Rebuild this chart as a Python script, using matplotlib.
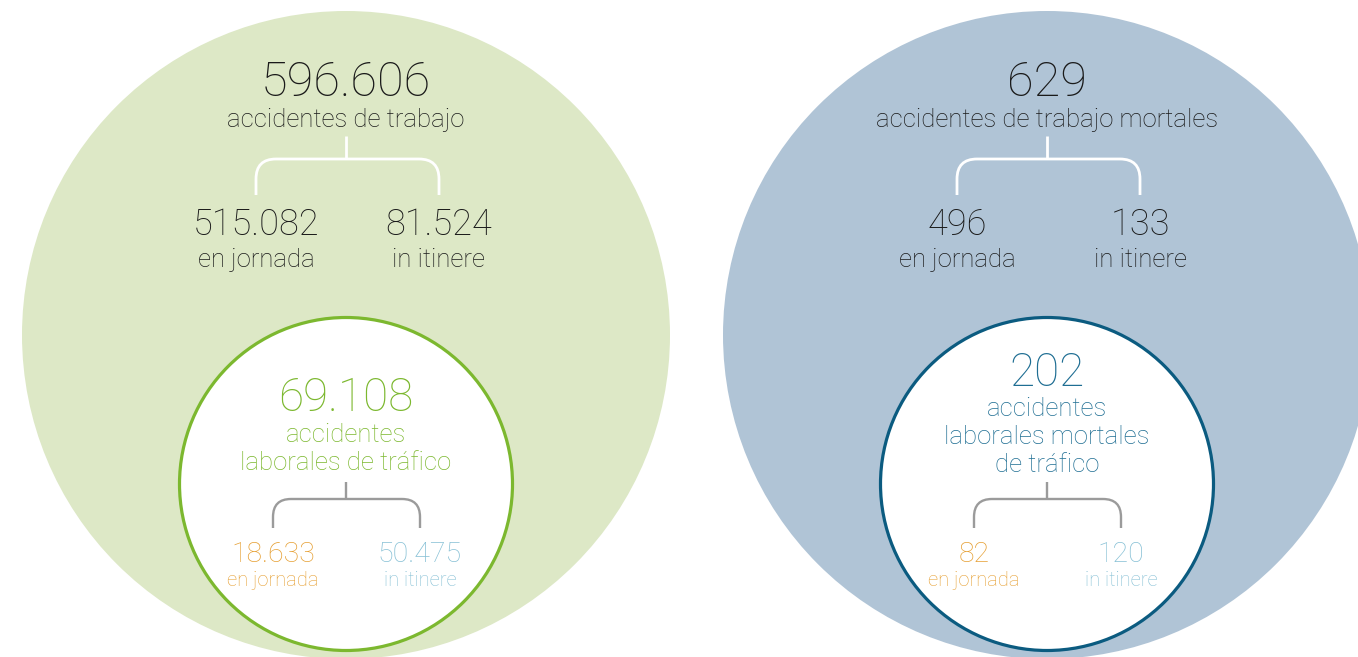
import matplotlib
matplotlib.use("Agg")
from matplotlib import pyplot as plt
from matplotlib.patches import Circle, PathPatch
from matplotlib.path import Path

# data
totals = [596606, 629]
total_labels = ["accidentes de trabajo", "accidentes de trabajo mortales"]
split_values = [[515082, 81524], [496, 133]]
split_labels = ["en jornada", "in itinere"]
traffic_totals = [69108, 202]
traffic_labels = [["accidentes", "laborales de tráfico"],
                  ["accidentes", "laborales mortales", "de tráfico"]]
traffic_split = [[18633, 50475], [82, 120]]

# style
FONT = "Roboto"
DARK = "#1a1a1a"
bg_colors = ["#dde8c6", "#b0c4d6"]
ring_colors = ["#7cb82f", "#0b5b80"]
traffic_text = ["#7cb82f", "#1f6e93"]
ORANGE = "#e6a034"
LIGHTBLUE = "#86c0d5"
GREY = "#9b9b9b"


def fmt(v):
    return f"{v:,}".replace(",", ".")


def bracket(ax, cx, y0, ymid, y1, xl, xr, r, color, lw):
    ax.plot([cx, cx], [y0, ymid], color=color, lw=lw, solid_capstyle="butt")
    verts = [(xl, y1), (xl, ymid + r), (xl, ymid), (xl + r, ymid),
             (xr - r, ymid), (xr, ymid), (xr, ymid + r), (xr, y1)]
    codes = [Path.MOVETO, Path.LINETO, Path.CURVE3, Path.CURVE3,
             Path.LINETO, Path.CURVE3, Path.CURVE3, Path.LINETO]
    ax.add_patch(PathPatch(Path(verts, codes), fill=False, edgecolor=color, lw=lw))


def label(ax, x, y, s, size, color, weight="light"):
    ax.text(x, y, s, ha="center", va="center", fontsize=size, color=color,
            family=FONT, weight=weight)


fig = plt.figure(figsize=(13.58, 6.57), dpi=100)
ax = fig.add_axes([0, 0, 1, 1])
ax.set_xlim(0, 1358)
ax.set_ylim(657, 0)
ax.axis("off")

centers = [346, 1047]
big_r = 324
for i, cx in enumerate(centers):
    ax.add_patch(Circle((cx, 335), big_r, facecolor=bg_colors[i], edgecolor="none"))
    ax.add_patch(Circle((cx, 484), 166.5, facecolor="white",
                        edgecolor=ring_colors[i], lw=2.3))

    label(ax, cx, 83, fmt(totals[i]), 35, DARK)
    label(ax, cx, 120, total_labels[i], 18.5, DARK)

    sub_x = [cx - 90, cx + 93]
    bracket(ax, cx, 136, 159, 195, sub_x[0], sub_x[1], 20, "white", 2.0)
    for j in range(2):
        label(ax, sub_x[j], 225, fmt(split_values[i][j]), 26, DARK)
        label(ax, sub_x[j], 260, split_labels[j], 18.5, DARK)

    # traffic circle
    lines = traffic_labels[i]
    top_y = 398 if len(lines) == 2 else 373
    gap = 37 if len(lines) == 2 else 35.5
    label(ax, cx, top_y, fmt(traffic_totals[i]), 33, traffic_text[i])
    for k, line in enumerate(lines):
        label(ax, cx, top_y + gap + 28.5 * k, line, 18.5, traffic_text[i])

    tx = [cx - 73, cx + 74]
    bracket(ax, cx, 482, 499, 528, tx[0], tx[1], 18, GREY, 1.7)
    colors = [ORANGE, LIGHTBLUE]
    for j in range(2):
        label(ax, tx[j], 554, fmt(traffic_split[i][j]), 20.5, colors[j])
        label(ax, tx[j], 581, split_labels[j], 14.5, colors[j])

fig.savefig("out.png", dpi=100)
